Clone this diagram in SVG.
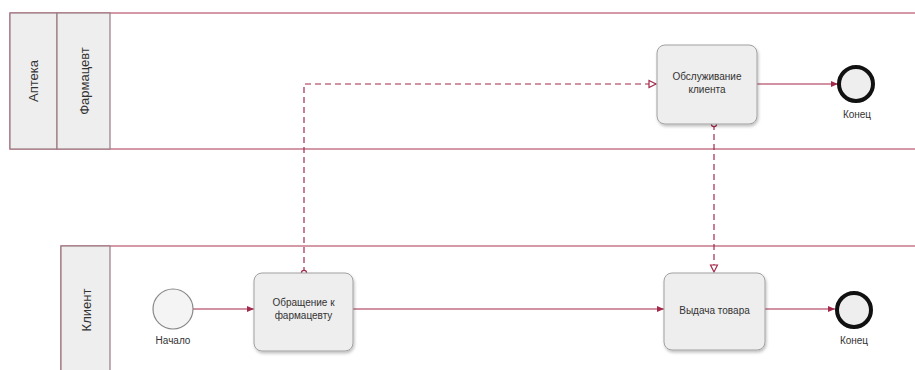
<svg xmlns="http://www.w3.org/2000/svg" width="915" height="370" viewBox="0 0 915 370">
<style>
.pool{fill:#ffffff;stroke:#b8566e;stroke-width:1.2}
.lbl{fill:#eeeeee;stroke:#9a7a80;stroke-width:1.2}
.pt{font-family:"Liberation Sans",Arial,sans-serif;font-size:13px;fill:#333333;text-anchor:middle;dominant-baseline:central}
.task{fill:#eeeeee;stroke:#a0a0a0;stroke-width:1;filter:url(#sh)}
.tt{font-family:"Liberation Sans",Arial,sans-serif;font-size:10px;fill:#333333;text-anchor:middle}
.el{font-family:"Liberation Sans",Arial,sans-serif;font-size:10px;fill:#333333;text-anchor:middle}
.seq{fill:none;stroke:#a3294b;stroke-width:1.2}
.msg{fill:none;stroke:#a3294b;stroke-width:1.2;stroke-dasharray:6 4}
</style>
<defs>
<filter id="sh" x="-10%" y="-10%" width="130%" height="130%">
<feDropShadow dx="1" dy="2" stdDeviation="1.5" flood-color="#000" flood-opacity="0.25"/>
</filter>
<marker id="arr" markerWidth="8" markerHeight="8" refX="7" refY="4" orient="auto" markerUnits="userSpaceOnUse">
<path d="M0,1 L7,4 L0,7 Z" fill="#a3294b"/>
</marker>
<marker id="oarr" markerWidth="10" markerHeight="10" refX="8" refY="5" orient="auto" markerUnits="userSpaceOnUse">
<path d="M1,1.5 L8,5 L1,8.5 Z" fill="#ffffff" stroke="#a3294b" stroke-width="1.2"/>
</marker>
<marker id="ocirc" markerWidth="8" markerHeight="8" refX="4" refY="4" orient="auto" markerUnits="userSpaceOnUse">
<circle cx="4" cy="4" r="2.6" fill="#ffffff" stroke="#a3294b" stroke-width="1.2"/>
</marker>
</defs>

<g id="pool-apteka">
<rect class="pool" x="10" y="13" width="915" height="136"/>
<rect class="lbl" x="10" y="13" width="47" height="136"/>
<text class="pt" transform="translate(33,81) rotate(-90)">Аптека</text>
</g>
<g id="lane-farmacevt">
<rect class="lbl" x="57" y="13" width="53" height="136"/>
<text class="pt" transform="translate(84,81) rotate(-90)">Фармацевт</text>
</g>
<g id="pool-klient">
<rect class="pool" x="61" y="246" width="864" height="140"/>
<rect class="lbl" x="61" y="246" width="49" height="140"/>
<text class="pt" transform="translate(86,310) rotate(-90)">Клиент</text>
</g>

<g id="connectors">
<line class="seq" x1="193" y1="309" x2="254" y2="309" marker-end="url(#arr)"/>
<line class="seq" x1="353" y1="309" x2="664" y2="309" marker-end="url(#arr)"/>
<line class="seq" x1="765" y1="309" x2="835" y2="309" marker-end="url(#arr)"/>
<line class="seq" x1="757" y1="84" x2="838" y2="84" marker-end="url(#arr)"/>
<polyline class="msg" points="304,273 304,84 656,84" marker-start="url(#ocirc)" marker-end="url(#oarr)"/>
<line class="msg" x1="714" y1="124" x2="714" y2="272" marker-start="url(#ocirc)" marker-end="url(#oarr)"/>
</g>

<g id="start">
<circle cx="173" cy="309" r="20" fill="#f4f4f4" stroke="#888888" stroke-width="1.2"/>
<text class="el" x="173" y="344">Начало</text>
</g>
<g id="task-obrashchenie">
<rect class="task" x="254" y="273" width="99" height="78" rx="8"/>
<text class="tt" x="303.5" y="306">Обращение к</text>
<text class="tt" x="303.5" y="319">фармацевту</text>
</g>
<g id="task-vydacha">
<rect class="task" x="664" y="273" width="101" height="77" rx="8"/>
<text class="tt" x="714.5" y="314">Выдача товара</text>
</g>
<g id="end-klient">
<circle cx="854" cy="310" r="17" fill="#eeeeee" stroke="#111111" stroke-width="4"/>
<text class="el" x="854" y="344">Конец</text>
</g>
<g id="task-obsluzhivanie">
<rect class="task" x="657" y="45" width="100" height="79" rx="8"/>
<text class="tt" x="707" y="80">Обслуживание</text>
<text class="tt" x="707" y="93">клиента</text>
</g>
<g id="end-farmacevt">
<circle cx="856" cy="84" r="17" fill="#eeeeee" stroke="#111111" stroke-width="4"/>
<text class="el" x="857" y="118">Конец</text>
</g>
</svg>
